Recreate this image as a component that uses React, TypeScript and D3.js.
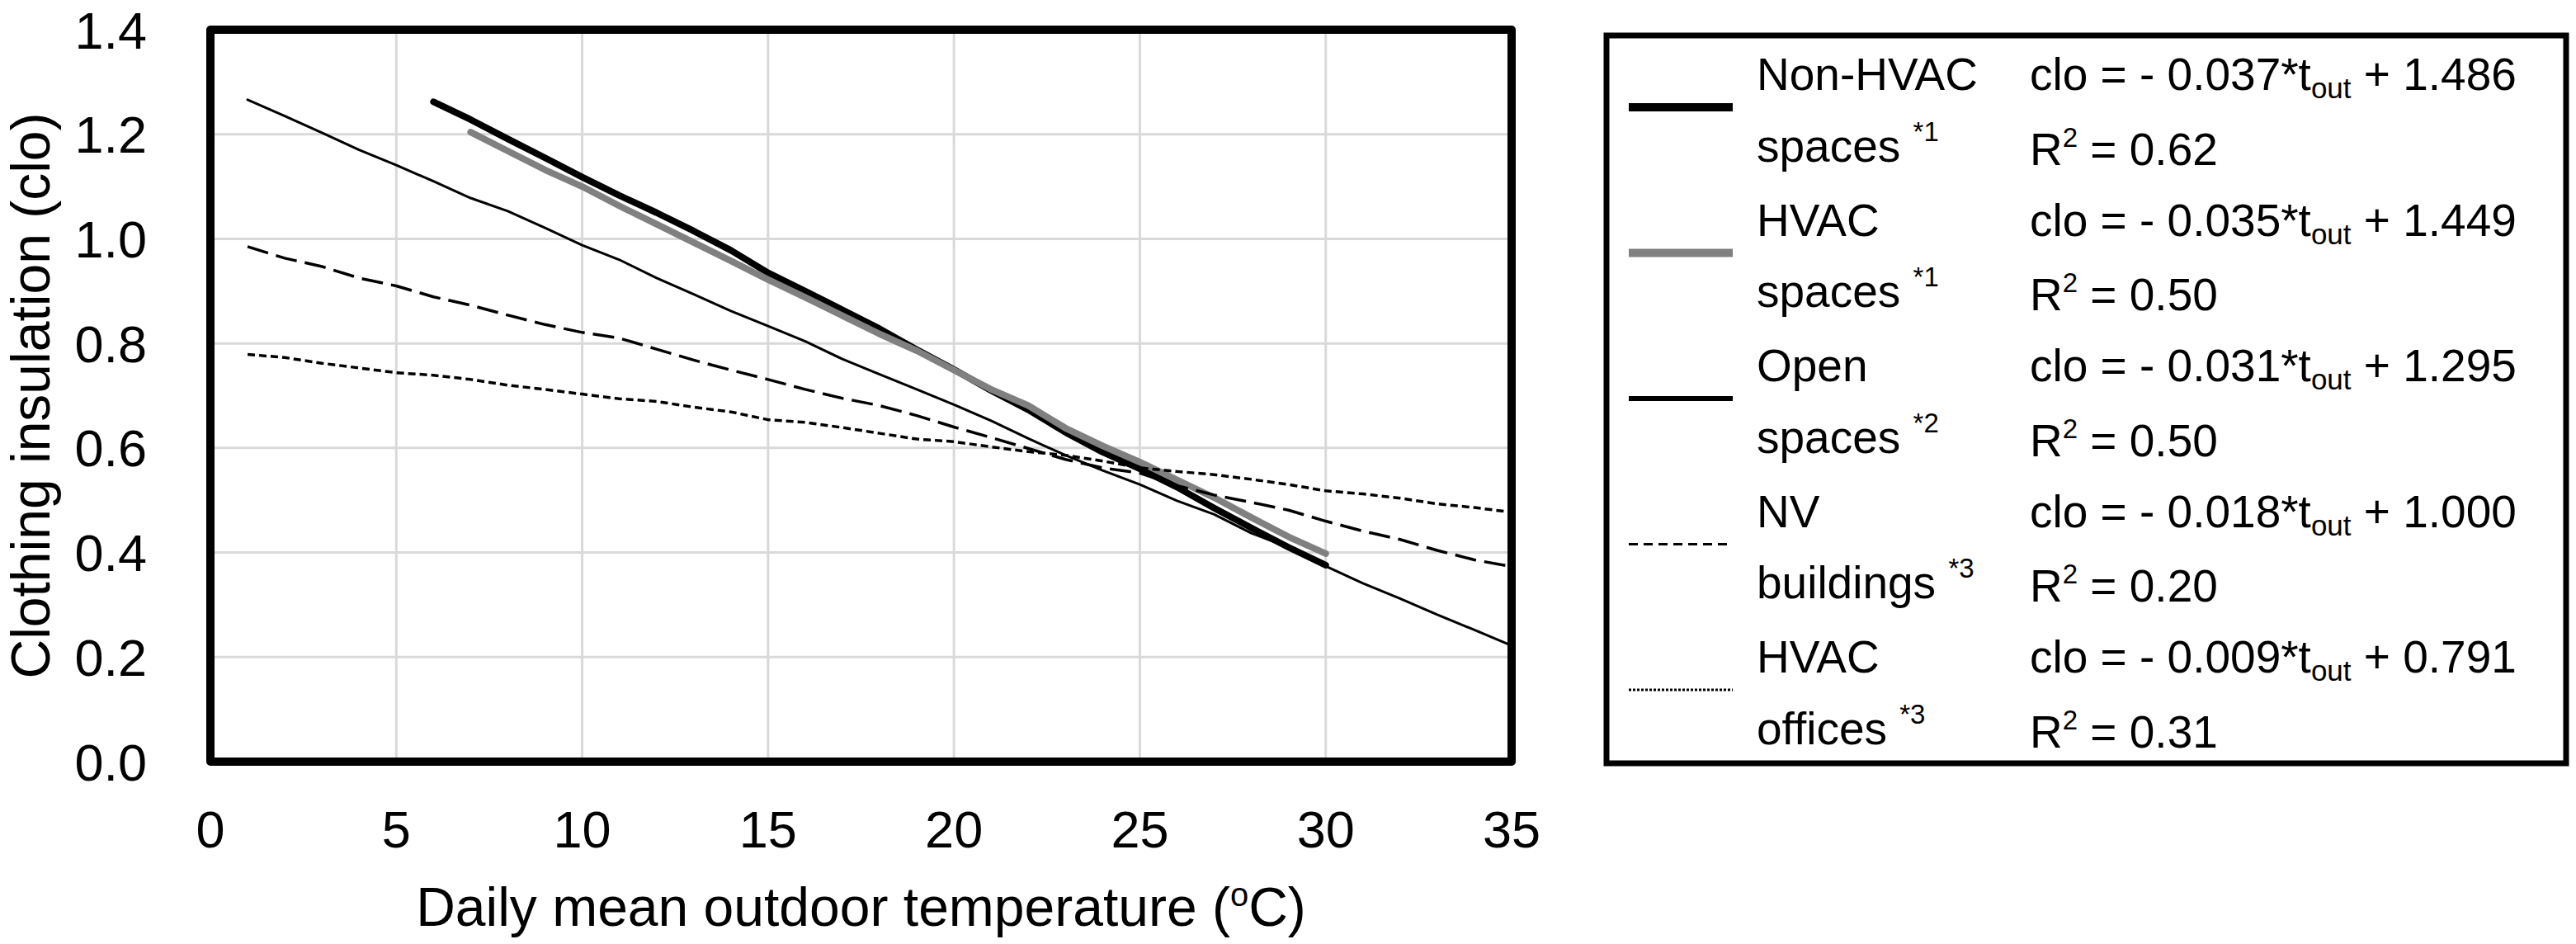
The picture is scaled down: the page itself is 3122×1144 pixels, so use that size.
import React from "react";
import * as d3 from "d3";

const WIDTH = 3122;
const HEIGHT = 1144;
const FONT = "'Liberation Sans', Arial, sans-serif";

// axis ticks
const xTicks = [0, 5, 10, 15, 20, 25, 30, 35];
const yTicks = [0, 0.2, 0.4, 0.6, 0.8, 1.0, 1.2, 1.4];

// daily mean outdoor temperature (°C) for each series
const tempAll = [
  1, 2, 3, 4, 5, 6, 7, 8, 9, 10, 11, 12, 13, 14, 15, 16, 17, 18, 19, 20, 21,
  22, 23, 24, 25, 26, 27, 28, 29, 30, 31, 32, 33, 34, 35,
];
const tempNonHvac = [
  6, 7, 8, 9, 10, 11, 12, 13, 14, 15, 16, 17, 18, 19, 20, 21, 22, 23, 24, 25,
  26, 27, 28, 29, 30,
];
const tempHvac = [
  7, 8, 9, 10, 11, 12, 13, 14, 15, 16, 17, 18, 19, 20, 21, 22, 23, 24, 25, 26,
  27, 28, 29, 30,
];

// clothing insulation (clo)
const nonHvacSpaces = [
  1.262, 1.228, 1.191, 1.155, 1.118, 1.083, 1.05, 1.015, 0.978, 0.935, 0.9,
  0.864, 0.828, 0.788, 0.75, 0.71, 0.673, 0.63, 0.592, 0.56, 0.525, 0.485,
  0.447, 0.41, 0.376,
];
const hvacSpaces = [
  1.204, 1.168, 1.132, 1.1, 1.063, 1.028, 0.993, 0.958, 0.922, 0.888, 0.853,
  0.818, 0.786, 0.749, 0.712, 0.681, 0.638, 0.604, 0.573, 0.539, 0.505, 0.467,
  0.43, 0.398,
];
const openSpaces = [
  1.266, 1.235, 1.203, 1.17, 1.141, 1.11, 1.078, 1.053, 1.021, 0.988, 0.96,
  0.925, 0.894, 0.862, 0.833, 0.804, 0.77, 0.741, 0.712, 0.683, 0.652, 0.618,
  0.586, 0.557, 0.53, 0.499, 0.473, 0.437, 0.41, 0.374, 0.341, 0.312, 0.281,
  0.252, 0.222,
];
const nvBuildings = [
  0.985, 0.963, 0.947, 0.925, 0.91, 0.889, 0.873, 0.854, 0.836, 0.821, 0.81,
  0.789, 0.768, 0.749, 0.731, 0.712, 0.695, 0.681, 0.662, 0.64, 0.62, 0.599,
  0.578, 0.562, 0.552, 0.528, 0.51, 0.496, 0.481, 0.46, 0.441, 0.425, 0.404,
  0.386, 0.373,
];
const hvacOffices = [
  0.779, 0.773, 0.762, 0.753, 0.744, 0.739, 0.731, 0.72, 0.712, 0.703, 0.694,
  0.689, 0.678, 0.669, 0.654, 0.649, 0.639, 0.628, 0.617, 0.612, 0.602, 0.593,
  0.586, 0.575, 0.562, 0.555, 0.549, 0.54, 0.53, 0.518, 0.512, 0.504, 0.493,
  0.486, 0.477,
];

// legend text
const legendLabel1 = ["Non-HVAC", "HVAC", "Open", "NV", "HVAC"];
const legendLabel2 = ["spaces", "spaces", "spaces", "buildings", "offices"];
const legendNotes = ["*1", "*1", "*2", "*3", "*3"];
const legendSlopes = ["0.037", "0.035", "0.031", "0.018", "0.009"];
const legendIntercepts = ["1.486", "1.449", "1.295", "1.000", "0.791"];
const legendR2 = ["0.62", "0.50", "0.50", "0.20", "0.31"];

type Series = {
  temps: number[];
  values: number[];
  stroke: string;
  width: number;
  dash?: string;
  legendWidth: number;
  legendDash?: string;
};

const series: Series[] = [
  { temps: tempNonHvac, values: nonHvacSpaces, stroke: "#000", width: 8, legendWidth: 10 },
  { temps: tempHvac, values: hvacSpaces, stroke: "#808080", width: 8, legendWidth: 10 },
  { temps: tempAll, values: openSpaces, stroke: "#000", width: 3, legendWidth: 6 },
  { temps: tempAll, values: nvBuildings, stroke: "#000", width: 3.5, dash: "26 10", legendWidth: 3, legendDash: "11 7" },
  { temps: tempAll, values: hvacOffices, stroke: "#000", width: 3.5, dash: "9 5", legendWidth: 3, legendDash: "3 2" },
];

const plot = { left: 255, right: 1832, top: 36, bottom: 923 };
const legendBox = { left: 1947, top: 43, right: 3110, bottom: 925 };

export default function App() {
  const x = d3.scaleLinear().domain([0, 35]).range([plot.left, plot.right]);
  const y = d3.scaleLinear().domain([0, 1.4]).range([plot.bottom, plot.top]);
  const fmtY = d3.format(".1f");

  const line = d3
    .line<[number, number]>()
    .x((d) => x(d[0]))
    .y((d) => y(d[1]));

  const col1 = 2129;
  const col2 = 2460;
  const rowStep = 176.5;
  const firstBase = 109;

  return (
    <svg
      width={WIDTH}
      height={HEIGHT}
      viewBox={`0 0 ${WIDTH} ${HEIGHT}`}
      style={{ position: "absolute", left: 0, top: 0, background: "#fff" }}
      fontFamily={FONT}
    >
      <rect width={WIDTH} height={HEIGHT} fill="#fff" />

      {/* grid */}
      <g stroke="#d9d9d9" strokeWidth={3}>
        {xTicks.slice(1, -1).map((t) => (
          <line key={`gx${t}`} x1={x(t)} x2={x(t)} y1={plot.top} y2={plot.bottom} />
        ))}
        {yTicks.slice(1, -1).map((t) => (
          <line key={`gy${t}`} x1={plot.left} x2={plot.right} y1={y(t)} y2={y(t)} />
        ))}
      </g>

      {/* series */}
      <g fill="none">
        {series.map((s, i) => (
          <path
            key={i}
            d={line(s.temps.map((t, j) => [t, s.values[j]] as [number, number])) ?? ""}
            stroke={s.stroke}
            strokeWidth={s.width}
            strokeDasharray={s.dash}
            strokeLinecap={s.dash ? "butt" : "round"}
            strokeLinejoin="round"
          />
        ))}
      </g>

      {/* frame */}
      <rect
        x={plot.left}
        y={plot.top}
        width={plot.right - plot.left}
        height={plot.bottom - plot.top}
        fill="none"
        stroke="#000"
        strokeWidth={10}
        strokeLinejoin="round"
      />

      {/* y ticks */}
      <g fontSize={63} textAnchor="end" fill="#000">
        {yTicks.map((t) => (
          <text key={`ty${t}`} x={178} y={y(t) + 22.5}>
            {fmtY(t)}
          </text>
        ))}
      </g>
      {/* x ticks */}
      <g fontSize={63} textAnchor="middle" fill="#000">
        {xTicks.map((t) => (
          <text key={`tx${t}`} x={x(t)} y={1027}>
            {t}
          </text>
        ))}
      </g>

      {/* axis titles */}
      <text
        x={(plot.left + plot.right) / 2}
        y={1122}
        fontSize={66}
        textAnchor="middle"
        style={{ whiteSpace: "pre" }}
      >
        Daily mean outdoor temperature (
        <tspan fontSize={40} dy={-24}>o</tspan>
        <tspan dy={24}>C)</tspan>
      </text>
      <text
        transform={`translate(60,${(plot.top + plot.bottom) / 2}) rotate(-90)`}
        fontSize={66}
        textAnchor="middle"
      >
        Clothing insulation (clo)
      </text>

      {/* legend */}
      <rect
        x={legendBox.left}
        y={legendBox.top}
        width={legendBox.right - legendBox.left}
        height={legendBox.bottom - legendBox.top}
        fill="#fff"
        stroke="#000"
        strokeWidth={7}
      />
      {series.map((s, i) => {
        const b1 = firstBase + i * rowStep;
        const b2 = b1 + 86.5;
        return (
          <g key={`lg${i}`} fontSize={55} style={{ whiteSpace: "pre" }}>
            <line
              x1={1974}
              x2={2100}
              y1={b1 + 21}
              y2={b1 + 21}
              stroke={s.stroke}
              strokeWidth={s.legendWidth}
              strokeDasharray={s.legendDash}
            />
            <text x={col1} y={b1}>{legendLabel1[i]}</text>
            <text x={col1} y={b2}>
              {legendLabel2[i] + " "}
              <tspan fontSize={33} dy={-25}>{legendNotes[i]}</tspan>
            </text>
            <text x={col2} y={b1}>
              {`clo = - ${legendSlopes[i]}*t`}
              <tspan fontSize={35} dy={10}>out</tspan>
              <tspan dy={-10}>{` + ${legendIntercepts[i]}`}</tspan>
            </text>
            <text x={col2} y={b2 + 4}>
              R
              <tspan fontSize={33} dy={-22}>2</tspan>
              <tspan dy={22}>{` = ${legendR2[i]}`}</tspan>
            </text>
          </g>
        );
      })}
    </svg>
  );
}
